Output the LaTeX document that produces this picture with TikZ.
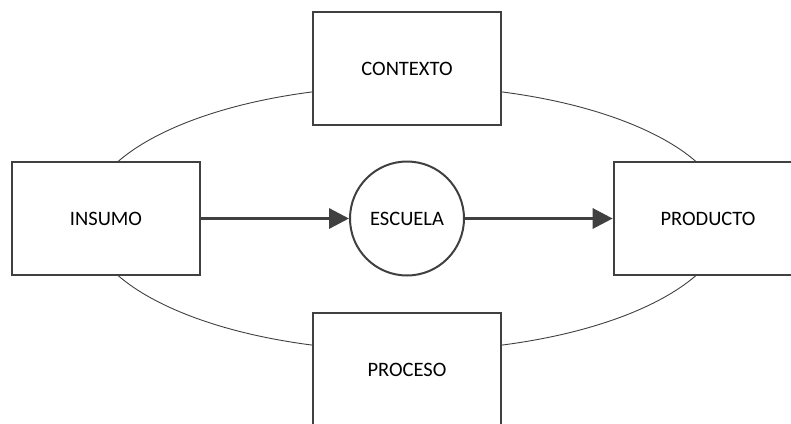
\documentclass[tikz,border=0pt]{standalone}
\usepackage{fontspec}
\setmainfont{Carlito}
\usetikzlibrary{arrows.meta}
\definecolor{dk}{HTML}{404040}
\tikzset{
  box/.style={draw=dk, line width=2.7pt, fill=white, minimum width=188pt, minimum height=113pt, inner sep=0pt, font=\fontsize{20.5}{24}\selectfont},
  circ/.style={circle, draw=dk, line width=2pt, fill=white, minimum size=114pt, inner sep=0pt, font=\fontsize{20.5}{24}\selectfont},
  flow/.style={draw=dk, line width=3.3pt, -{Triangle[length=20pt,width=20pt]}},
  orbit/.style={draw=dk, line width=0.9pt}
}
\begin{document}
\begin{tikzpicture}[x=1pt,y=-1pt]
\useasboundingbox (0,0) rectangle (791,423);
\clip (0,0) rectangle (791,423);
\coordinate (c) at (407,218.5);
\draw[orbit] (c) ellipse [x radius=320, y radius=132.5];
\node[box] (ctx) at (407,68.5) {CONTEXTO};
\node[box] (pro) at (407,369.5) {PROCESO};
\node[box] (ins) at (106,218.5) {INSUMO};
\node[box] (prd) at (708,218.5) {PRODUCTO};
\node[circ] (esc) at (c) {ESCUELA};
\draw[flow] (ins.east) -- (esc.west);
\draw[flow] (esc.east) -- (prd.west);
\end{tikzpicture}
\end{document}
